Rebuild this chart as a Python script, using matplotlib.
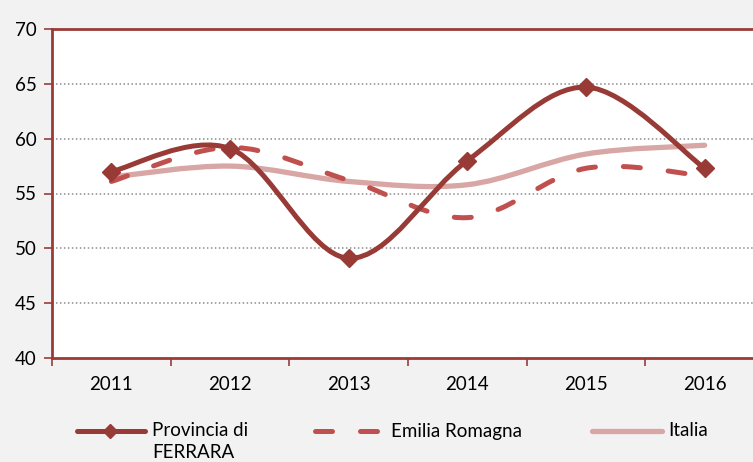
import numpy as np
import matplotlib
matplotlib.use("Agg")
import matplotlib.pyplot as plt
from matplotlib.path import Path
from matplotlib.patches import PathPatch
from matplotlib.lines import Line2D

# ==== Dati ====
anni = ["2011", "2012", "2013", "2014", "2015", "2016"]
ferrara = [57.0, 59.1, 49.1, 58.0, 64.7, 57.3]
emilia = [56.1, 59.2, 56.2, 52.8, 57.3, 56.6]
italia = [56.5, 57.5, 56.1, 55.8, 58.6, 59.4]

C_FER = "#983A36"
C_EMI = "#C0504D"
C_ITA = "#D8A6A4"
C_AX = "#9B3B38"

W, H = 753, 462
FS = 13.5
plt.rcParams["font.family"] = ["Lato", "DejaVu Sans"]


def smooth_path(x, y):
    """Curva levigata tipo Excel (Bezier cubica, Catmull-Rom /6)."""
    p = np.column_stack([x, y]).astype(float)
    pp = np.vstack([p[0], p, p[-1]])
    verts = [p[0]]
    codes = [Path.MOVETO]
    for i in range(len(p) - 1):
        p0, p1, p2, p3 = pp[i], pp[i + 1], pp[i + 2], pp[i + 3]
        c1 = p1 + (p2 - p0) / 6.0
        c2 = p2 - (p3 - p1) / 6.0
        verts += [c1, c2, p2]
        codes += [Path.CURVE4] * 3
    return Path(verts, codes)


fig = plt.figure(figsize=(W / 100, H / 100), dpi=100, facecolor="#F2F2F2")
ax = fig.add_axes([52 / W, 1 - 358 / H, 712 / W, 329 / H])
ax.set_facecolor("white")

x = np.arange(len(anni)) + 0.5
DASH = (0, (3.4, 5.6))

ax.add_patch(PathPatch(smooth_path(x, italia), fill=False, ec=C_ITA, lw=3.8,
                       capstyle="round", zorder=3))
ax.add_patch(PathPatch(smooth_path(x, emilia), fill=False, ec=C_EMI, lw=3.6,
                       linestyle=DASH, capstyle="round", zorder=4))
ax.add_patch(PathPatch(smooth_path(x, ferrara), fill=False, ec=C_FER, lw=3.6,
                       capstyle="round", zorder=5))
ax.plot(x, ferrara, ls="none", marker="D", ms=9, color=C_FER, zorder=6)

ax.set_xlim(0, 6)
ax.set_ylim(40, 70)
ax.set_yticks(np.arange(40, 71, 5))
ax.set_xticks(np.arange(0, 7))
ax.set_xticklabels([])
ax.set_xticks(x, minor=True)
ax.set_xticklabels(anni, minor=True)
ax.tick_params(axis="x", which="major", length=6, width=1.2, color=C_AX,
               direction="out")
ax.tick_params(axis="x", which="minor", length=0, pad=13, labelsize=FS)
ax.tick_params(axis="y", length=6, width=1.2, color=C_AX, direction="out",
               labelsize=FS, pad=5)

for gy in range(45, 70, 5):
    ax.axhline(gy, color="#8C8C8C", lw=1.1, ls=(0, (1, 1.6)), zorder=1)

for s in ["left", "bottom", "top"]:
    ax.spines[s].set_color(C_AX)
    ax.spines[s].set_linewidth(2)
ax.spines["right"].set_visible(False)

# ==== Legenda ====
def px(xp, yp):
    return xp / W, 1 - yp / H

ly = 431
fig.add_artist(Line2D([px(77, 0)[0], px(145, 0)[0]], [px(0, ly)[1]] * 2,
                      color=C_FER, lw=3.6, solid_capstyle="round"))
fig.add_artist(Line2D([px(110, 0)[0]], [px(0, ly)[1]], color=C_FER,
                      marker="D", ms=7))
fig.text(*px(152, ly), "Provincia di", fontsize=FS, va="center")
fig.text(*px(152, ly + 22), "FERRARA", fontsize=FS, va="center")

fig.add_artist(Line2D([px(315, 0)[0], px(384, 0)[0]], [px(0, ly)[1]] * 2,
                      color=C_EMI, lw=3.6, ls=DASH, dash_capstyle="round"))
fig.text(*px(391, ly), "Emilia Romagna", fontsize=FS, va="center")

fig.add_artist(Line2D([px(592, 0)[0], px(662, 0)[0]], [px(0, ly)[1]] * 2,
                      color=C_ITA, lw=3.8, solid_capstyle="round"))
fig.text(*px(668, ly), "Italia", fontsize=FS, va="center")

fig.savefig("out.png", dpi=100, facecolor=fig.get_facecolor())
